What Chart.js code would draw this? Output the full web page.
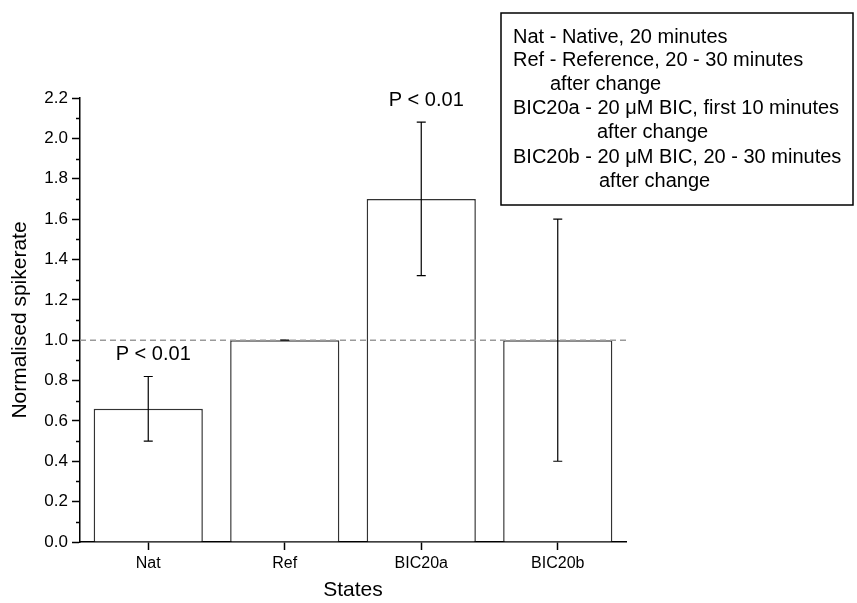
<!DOCTYPE html>
<html>
<head>
<meta charset="utf-8">
<script src="https://cdn.jsdelivr.net/npm/chart.js@4.4.1/dist/chart.umd.min.js"></script>
<style>
  html, body { margin: 0; padding: 0; background: #fff; }
  #wrap { width: 857px; height: 603px; position: relative; }
</style>
</head>
<body>
<div id="wrap"><canvas id="chart" width="857" height="603"></canvas></div>
<script>
// Data
const categories = ['Nat', 'Ref', 'BIC20a', 'BIC20b'];
const spikerate  = [0.66, 1.0, 1.70, 1.0];
const errors     = [0.16, 0.0, 0.38, 0.60];
const pLabels    = ['P < 0.01', '', 'P < 0.01', ''];
const refLevel   = 1.0;
const yMin = 0, yMax = 2.2, yStep = 0.2, yMinorStep = 0.1;

const legendLines = [
  'Nat - Native, 20 minutes',
  'Ref - Reference, 20 - 30 minutes',
  'after change',
  'BIC20a - 20 \u03bcM BIC, first 10 minutes',
  'after change',
  'BIC20b - 20 \u03bcM BIC, 20 - 30 minutes',
  'after change'
];

const FONT = '"Liberation Sans", Arial, sans-serif';

// error bars, reference line, minor ticks, p-value labels
const extrasPlugin = {
  id: 'extras',
  afterDatasetsDraw(chart) {
    const { ctx, chartArea } = chart;
    const y = chart.scales.y;
    const meta = chart.getDatasetMeta(0);

    // dashed reference line
    ctx.save();
    ctx.strokeStyle = '#9a9a9a';
    ctx.lineWidth = 1.5;
    ctx.setLineDash([6, 4]);
    const yr = y.getPixelForValue(refLevel);
    ctx.beginPath();
    ctx.moveTo(chartArea.left, yr);
    ctx.lineTo(chartArea.right, yr);
    ctx.stroke();
    ctx.restore();

    // error bars
    ctx.save();
    ctx.strokeStyle = '#000';
    ctx.lineWidth = 1.2;
    meta.data.forEach((bar, i) => {
      const hi = y.getPixelForValue(spikerate[i] + errors[i]);
      const lo = y.getPixelForValue(spikerate[i] - errors[i]);
      ctx.beginPath();
      ctx.moveTo(bar.x, hi); ctx.lineTo(bar.x, lo);
      ctx.moveTo(bar.x - 4.5, hi); ctx.lineTo(bar.x + 4.5, hi);
      ctx.moveTo(bar.x - 4.5, lo); ctx.lineTo(bar.x + 4.5, lo);
      ctx.stroke();
    });
    ctx.restore();

    // p-value labels
    ctx.save();
    ctx.fillStyle = '#000';
    ctx.font = '20px ' + FONT;
    ctx.textAlign = 'center';
    ctx.textBaseline = 'middle';
    meta.data.forEach((bar, i) => {
      if (!pLabels[i]) return;
      const top = y.getPixelForValue(spikerate[i] + errors[i]);
      ctx.fillText(pLabels[i], bar.x + 5, top - 22);
    });
    ctx.restore();

    // minor ticks on y axis
    ctx.save();
    ctx.strokeStyle = '#000';
    ctx.lineWidth = 1.5;
    for (let v = yMin + yMinorStep; v < yMax; v += yStep) {
      const py = Math.round(y.getPixelForValue(v)) + 0.5;
      ctx.beginPath();
      ctx.moveTo(chartArea.left, py);
      ctx.lineTo(chartArea.left - 4, py);
      ctx.stroke();
    }
    ctx.restore();
  },
  afterDraw(chart) {
    // legend box (top right)
    const { ctx } = chart;
    ctx.save();
    ctx.strokeStyle = '#000';
    ctx.lineWidth = 1.5;
    ctx.strokeRect(501, 13, 352, 192);
    ctx.fillStyle = '#000';
    ctx.font = '20px ' + FONT;
    ctx.textBaseline = 'middle';
    const xs = [513, 513, 550, 513, 597, 513, 599];
    const ys = [37, 60, 84, 108, 132, 157, 181];
    legendLines.forEach((t, i) => ctx.fillText(t, xs[i], ys[i]));
    ctx.restore();
  }
};

new Chart(document.getElementById('chart'), {
  type: 'bar',
  data: {
    labels: categories,
    datasets: [{
      data: spikerate,
      backgroundColor: '#fff',
      borderColor: '#333',
      borderWidth: 1.5,
      barPercentage: 0.8,
      categoryPercentage: 1.0
    }]
  },
  options: {
    responsive: false,
    animation: false,
    layout: { padding: { left: 0, right: 231, top: 98, bottom: 0 } },
    plugins: { legend: { display: false }, tooltip: { enabled: false } },
    scales: {
      x: {
        afterFit: s => { s.height = 61; },
        grid: {
          offset: false, drawOnChartArea: false, drawTicks: true,
          tickLength: 8, tickColor: '#000', tickWidth: 1.5
        },
        border: { display: true, color: '#000', width: 1.5 },
        ticks: { color: '#000', font: { family: FONT, size: 16 }, padding: 4 },
        title: {
          display: true, text: 'States', color: '#000',
          font: { family: FONT, size: 21 }, padding: { top: 0, bottom: 0 }
        }
      },
      y: {
        min: yMin, max: yMax,
        afterFit: s => { s.width = 80; },
        grid: {
          drawOnChartArea: false, drawTicks: true,
          tickLength: 8, tickColor: '#000', tickWidth: 1.5
        },
        border: { display: true, color: '#000', width: 1.5 },
        ticks: {
          stepSize: yStep, color: '#000', padding: 4,
          font: { family: FONT, size: 17 },
          callback: v => v.toFixed(1)
        },
        title: {
          display: true, text: 'Normalised spikerate', color: '#000',
          font: { family: FONT, size: 21 }, padding: { top: 8, bottom: 0 }
        }
      }
    }
  },
  plugins: [extrasPlugin]
});
</script>
</body>
</html>
